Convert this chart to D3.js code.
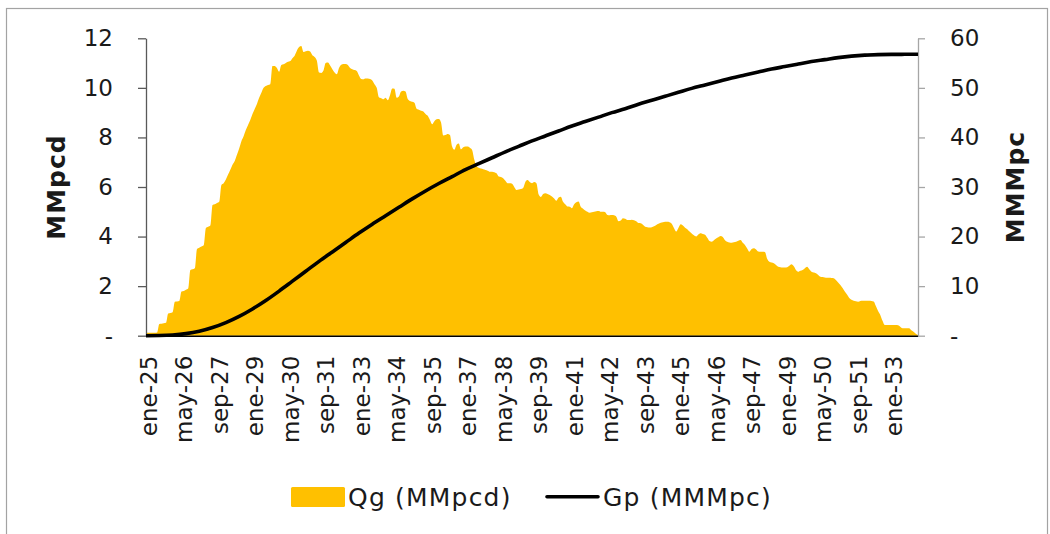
<!DOCTYPE html>
<html>
<head>
<meta charset="utf-8">
<script src="https://cdn.jsdelivr.net/npm/d3@7"></script>
<style>
  html, body { margin: 0; padding: 0; background: #ffffff; }
  svg { display: block; }
  text { font-family: "DejaVu Sans", sans-serif; fill: #1a1a1a; }
</style>
</head>
<body>
<svg id="chart" width="1050" height="534"></svg>
<script>
// Monthly gas rate Qg (MMpcd), one value per month starting ene-25
const qg = [
  0.12,0.12,0.12,0.12,0.12,0.13,0.47,0.48,0.50,0.52,
  0.90,0.92,0.95,1.37,1.38,1.40,1.78,1.80,1.85,1.90,
  2.65,2.68,2.72,3.50,3.55,3.60,3.65,4.35,4.40,4.45,
  5.27,5.30,5.35,5.40,6.08,6.15,6.30,6.50,6.70,6.90,
  7.05,7.30,7.55,7.85,8.05,8.30,8.50,8.70,8.95,9.15,
  9.35,9.60,9.80,10.00,10.08,10.12,10.15,10.88,10.88,10.80,
  10.65,10.92,10.95,11.00,11.05,11.08,11.20,11.30,11.50,11.65,
  11.69,11.45,11.48,11.50,11.47,11.32,11.25,11.10,10.62,10.60,
  10.70,11.00,11.02,10.90,10.75,10.62,10.55,10.80,10.93,10.96,
  10.96,10.92,10.80,10.75,10.72,10.68,10.50,10.36,10.35,10.38,
  10.38,10.36,10.30,10.15,10.00,9.62,9.58,9.54,9.60,9.50,
  9.70,9.97,9.96,9.60,9.65,9.85,9.88,9.85,9.55,9.47,
  9.44,9.40,9.16,9.12,9.08,9.05,8.95,8.87,8.70,8.53,
  8.65,8.73,8.74,8.60,8.08,8.10,8.14,8.10,7.63,7.50,
  7.70,7.76,7.52,7.60,7.63,7.63,7.58,7.49,7.10,6.85,
  6.78,6.75,6.72,6.69,6.66,6.62,6.62,6.60,6.55,6.42,
  6.40,6.35,6.25,6.15,6.15,6.13,6.00,5.88,5.90,5.92,
  5.96,6.20,6.28,6.20,6.15,6.20,6.15,5.70,5.60,5.72,
  5.75,5.72,5.68,5.62,5.54,5.45,5.58,5.61,5.40,5.30,
  5.21,5.20,5.14,5.30,5.38,5.41,5.20,5.12,5.05,5.00,
  4.96,4.98,5.00,5.02,5.03,5.00,5.00,4.98,4.87,4.86,
  4.87,4.86,4.80,4.62,4.65,4.74,4.72,4.67,4.67,4.68,
  4.66,4.62,4.55,4.54,4.48,4.40,4.38,4.37,4.38,4.42,
  4.47,4.52,4.56,4.58,4.60,4.60,4.58,4.52,4.35,4.20,
  4.35,4.50,4.45,4.36,4.30,4.20,4.12,4.05,4.00,4.08,
  4.13,4.10,4.07,3.95,3.82,3.79,3.85,3.92,3.97,4.02,
  3.98,3.85,3.79,3.76,3.75,3.77,3.79,3.83,3.86,3.75,
  3.66,3.52,3.39,3.50,3.53,3.48,3.40,3.39,3.39,3.38,
  3.10,2.98,2.95,2.92,2.85,2.78,2.76,2.75,2.75,2.76,
  2.82,2.88,2.80,2.65,2.58,2.62,2.65,2.72,2.78,2.68,
  2.58,2.55,2.52,2.45,2.38,2.37,2.35,2.34,2.34,2.33,
  2.32,2.25,2.15,2.05,1.92,1.78,1.66,1.52,1.45,1.41,
  1.39,1.37,1.40,1.41,1.41,1.41,1.41,1.40,1.38,1.20,
  1.00,0.84,0.60,0.43,0.43,0.43,0.43,0.43,0.43,0.42,
  0.36,0.30,0.30,0.30,0.30,0.22,0.16,0.08,0.03
];

// Cumulative production Gp (MMMpc), sampled every 6 months from ene-25
const gpStepMonths = 6;
const gp = [
  0,0.03,0.15,0.42,0.9,1.65,2.65,3.9,5.4,7.1,
  9.0,11.0,13.0,15.0,16.9,18.8,20.7,22.5,24.2,25.9,
  27.6,29.2,30.7,32.1,33.5,34.7,35.9,37.1,38.2,39.3,
  40.3,41.3,42.3,43.2,44.1,45.0,45.8,46.7,47.5,48.3,
  49.1,49.9,50.6,51.3,52.0,52.6,53.2,53.8,54.3,54.8,
  55.3,55.7,56.1,56.4,56.6,56.7,56.75,56.77,56.78
];

// Category axis labels, one every 16 months
const tickStepMonths = 16;
const xTickLabels = [
  "ene-25","may-26","sep-27","ene-29","may-30","sep-31","ene-33","may-34",
  "sep-35","ene-37","may-38","sep-39","ene-41","may-42","sep-43","ene-45",
  "may-46","sep-47","ene-49","may-50","sep-51","ene-53"
];
const leftTicks = [0, 2, 4, 6, 8, 10, 12];
const rightTicks = [0, 10, 20, 30, 40, 50, 60];

const svg = d3.select("#chart");
const plot = { left: 146, right: 918, top: 38.3, bottom: 335.7 };

// frame around the chart
svg.append("rect")
  .attr("x", 6.5).attr("y", 8.5)
  .attr("width", 1041).attr("height", 540)
  .attr("fill", "none").attr("stroke", "#a3a3a3").attr("stroke-width", 1.2);

const x = d3.scaleLinear().domain([0, qg.length - 1]).range([plot.left, plot.right]);
const yL = d3.scaleLinear().domain([0, 12]).range([plot.bottom, plot.top]);
const yR = d3.scaleLinear().domain([0, 60]).range([plot.bottom, plot.top]);

// Qg area
const area = d3.area()
  .x((d, i) => x(i))
  .y0(yL(0))
  .y1(d => yL(d))
  .curve(d3.curveMonotoneX);
svg.append("path")
  .datum(qg)
  .attr("d", area)
  .attr("fill", "#FFC000");

// x axis (baseline + rotated labels)
const tickIdx = xTickLabels.map((_, k) => k * tickStepMonths);
const gx = svg.append("g")
  .attr("transform", `translate(0,${plot.bottom})`)
  .call(d3.axisBottom(x).tickValues(tickIdx)
    .tickFormat((d, k) => xTickLabels[k]).tickSize(0).tickSizeOuter(0));
gx.select(".domain").attr("stroke", "#000").attr("stroke-width", 1.6);
gx.selectAll(".tick text")
  .attr("transform", "rotate(-90)")
  .attr("text-anchor", "end")
  .attr("x", -20)
  .attr("y", 10.5)
  .attr("dy", 0)
  .style("font-size", "23px")
  .style("font-family", "DejaVu Sans, sans-serif")
  .attr("fill", "#1a1a1a");

// left axis
const gl = svg.append("g")
  .attr("transform", `translate(${plot.left},0)`)
  .call(d3.axisLeft(yL).tickValues(leftTicks)
    .tickFormat(d => d === 0 ? "-" : d).tickSize(8).tickPadding(25).tickSizeOuter(0));
gl.select(".domain").attr("stroke", "#595959").attr("stroke-width", 1.3);
gl.selectAll(".tick line").attr("stroke", "#595959").attr("stroke-width", 1.3);
gl.selectAll(".tick text")
  .style("font-size", "23px")
  .style("font-family", "DejaVu Sans, sans-serif")
  .attr("fill", "#1a1a1a");

// right axis
const gr = svg.append("g")
  .attr("transform", `translate(${plot.right},0)`)
  .call(d3.axisRight(yR).tickValues(rightTicks)
    .tickFormat(d => d === 0 ? "-" : d).tickSize(7).tickPadding(25).tickSizeOuter(0));
gr.select(".domain").attr("stroke", "#a6a6a6").attr("stroke-width", 1.3);
gr.selectAll(".tick line").attr("stroke", "#a6a6a6").attr("stroke-width", 1.3);
gr.selectAll(".tick text")
  .style("font-size", "23px")
  .style("font-family", "DejaVu Sans, sans-serif")
  .attr("fill", "#1a1a1a");

// Gp line
const line = d3.line()
  .x((d, k) => x(k * gpStepMonths))
  .y(d => yR(d))
  .curve(d3.curveMonotoneX);
svg.append("path")
  .datum(gp)
  .attr("d", line)
  .attr("fill", "none")
  .attr("stroke", "#000")
  .attr("stroke-width", 3.6)
  .attr("stroke-linejoin", "round");

// axis titles
svg.append("text")
  .attr("transform", `translate(65,${(plot.top + plot.bottom) / 2}) rotate(-90)`)
  .attr("text-anchor", "middle")
  .style("font-size", "25px").style("font-weight", "bold").style("letter-spacing", "1px")
  .text("MMpcd");
svg.append("text")
  .attr("transform", `translate(1024,${(plot.top + plot.bottom) / 2}) rotate(-90)`)
  .attr("text-anchor", "middle")
  .style("font-size", "25px").style("font-weight", "bold").style("letter-spacing", "1px")
  .text("MMMpc");

// legend
const lg = svg.append("g");
lg.append("rect")
  .attr("x", 291).attr("y", 487).attr("width", 54).attr("height", 20)
  .attr("rx", 1.5).attr("fill", "#FFC000");
lg.append("text")
  .attr("x", 348).attr("y", 506)
  .style("font-size", "25px").style("letter-spacing", "1.2px")
  .text("Qg (MMpcd)");
lg.append("line")
  .attr("x1", 547).attr("x2", 598).attr("y1", 496.7).attr("y2", 496.7)
  .attr("stroke", "#000").attr("stroke-width", 3.6).attr("stroke-linecap", "round");
lg.append("text")
  .attr("x", 603).attr("y", 506)
  .style("font-size", "25px").style("letter-spacing", "1.2px")
  .text("Gp (MMMpc)");
</script>
</body>
</html>
